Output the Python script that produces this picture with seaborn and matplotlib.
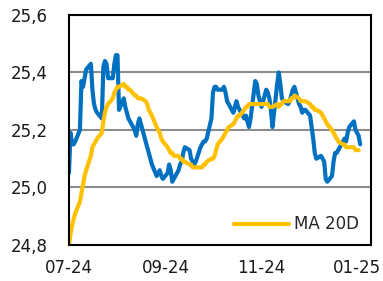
import pandas as pd
import numpy as np
import matplotlib
matplotlib.use('Agg')
import matplotlib.pyplot as plt
import matplotlib.dates as mdates
from matplotlib.ticker import FuncFormatter
import seaborn as sns

# business days, Jul 1 2024 .. Jan 3 2025
dates = pd.bdate_range('2024-07-01', '2025-01-03')

eurczk = [
    25.05, 25.19, 25.15, 25.15, 25.16,
    25.20, 25.37, 25.35, 25.38, 25.41,
    25.43, 25.34, 25.29, 25.27, 25.26,
    25.24, 25.42, 25.44, 25.43, 25.38,
    25.38, 25.43, 25.46, 25.46, 25.27,
    25.31, 25.28, 25.26, 25.24, 25.23,
    25.20, 25.18, 25.22, 25.24, 25.22,
    25.16, 25.14, 25.12, 25.10, 25.08,
    25.04, 25.05, 25.06, 25.04, 25.03,
    25.05, 25.08, 25.06, 25.02, 25.03,
    25.06, 25.08, 25.09, 25.12, 25.14,
    25.13, 25.10, 25.09, 25.08, 25.09,
    25.14, 25.15, 25.16, 25.16, 25.17,
    25.24, 25.33, 25.35, 25.35, 25.34,
    25.34, 25.35, 25.33, 25.30, 25.29,
    25.26, 25.28, 25.30, 25.28, 25.27,
    25.24, 25.25, 25.23, 25.21, 25.24,
    25.37, 25.36, 25.32, 25.30, 25.28,
    25.34, 25.33, 25.31, 25.27, 25.21,
    25.36, 25.40, 25.36, 25.31, 25.30,
    25.29, 25.30, 25.32, 25.34, 25.35,
    25.29, 25.28, 25.26, 25.27, 25.27,
    25.25, 25.21, 25.17, 25.12, 25.10,
    25.11, 25.10, 25.09, 25.03, 25.02,
    25.04, 25.09, 25.12, 25.12, 25.13,
    25.16, 25.17, 25.16, 25.19, 25.21,
    25.23, 25.20, 25.19, 25.18, 25.15,
]

ma20 = [
    24.80, 24.84, 24.87, 24.89, 24.91,
    24.95, 24.98, 25.01, 25.04, 25.06,
    25.11, 25.14, 25.15, 25.16, 25.17,
    25.19, 25.23, 25.26, 25.28, 25.29,
    25.31, 25.33, 25.34, 25.35, 25.35,
    25.36, 25.35, 25.35, 25.34, 25.34,
    25.32, 25.32, 25.31, 25.31, 25.31,
    25.30, 25.29, 25.27, 25.26, 25.25,
    25.21, 25.20, 25.19, 25.17, 25.16,
    25.14, 25.13, 25.12, 25.12, 25.11,
    25.11, 25.10, 25.10, 25.09, 25.09,
    25.08, 25.08, 25.07, 25.07, 25.07,
    25.07, 25.07, 25.08, 25.08, 25.09,
    25.10, 25.10, 25.11, 25.13, 25.15,
    25.17, 25.18, 25.19, 25.20, 25.21,
    25.22, 25.23, 25.24, 25.25, 25.25,
    25.27, 25.28, 25.28, 25.29, 25.29,
    25.29, 25.29, 25.29, 25.29, 25.29,
    25.29, 25.29, 25.28, 25.28, 25.28,
    25.29, 25.28, 25.29, 25.29, 25.30,
    25.30, 25.30, 25.31, 25.31, 25.32,
    25.31, 25.30, 25.30, 25.30, 25.30,
    25.29, 25.28, 25.28, 25.27, 25.27,
    25.26, 25.25, 25.24, 25.23, 25.22,
    25.20, 25.19, 25.18, 25.17, 25.16,
    25.15, 25.15, 25.14, 25.14, 25.14,
    25.14, 25.13, 25.13, 25.13, np.nan,
]

df = pd.DataFrame({'date': dates, 'eurczk': eurczk, 'ma20': ma20})

sns.set_style('white')
plt.rcParams['font.family'] = ['DejaVu Sans']

fig = plt.figure(figsize=(3.83, 2.81), dpi=100)
ax = fig.add_axes([0.180, 0.128, 0.789, 0.819])

sns.lineplot(data=df, x='date', y='eurczk', ax=ax, color='#0070C0', lw=3, legend=False)
sns.lineplot(data=df, x='date', y='ma20', ax=ax, color='#FFC000', lw=3, label='MA 20D')

ax.set_xlim(pd.Timestamp('2024-07-01'), pd.Timestamp('2025-01-10'))
ax.set_ylim(24.8, 25.6)
ax.set_yticks([24.8, 25.0, 25.2, 25.4, 25.6])
ax.yaxis.set_major_formatter(FuncFormatter(lambda v, p: f'{v:.1f}'.replace('.', ',')))
ax.set_xticks(pd.to_datetime(['2024-07-01', '2024-09-01', '2024-11-01', '2025-01-01']))
ax.xaxis.set_major_formatter(mdates.DateFormatter('%m-%y'))

ax.yaxis.grid(True, color='#8c8c8c', lw=1.5)
ax.set_axisbelow(True)
ax.set_xlabel('')
ax.set_ylabel('')

for s in ax.spines.values():
    s.set_color('black')
    s.set_linewidth(1.5)

ax.tick_params(axis='y', length=0, pad=15, labelsize=12, colors='#1a1a1a')
ax.tick_params(axis='x', length=4, width=1.5, direction='out', pad=6, labelsize=12, colors='black')
ax.tick_params(axis='x', labelcolor='#1a1a1a')

ax.legend(loc='lower right', frameon=False, fontsize=12, handlelength=3.3,
          handletextpad=0.3, borderaxespad=0.3)

fig.savefig('out.png', dpi=100)
